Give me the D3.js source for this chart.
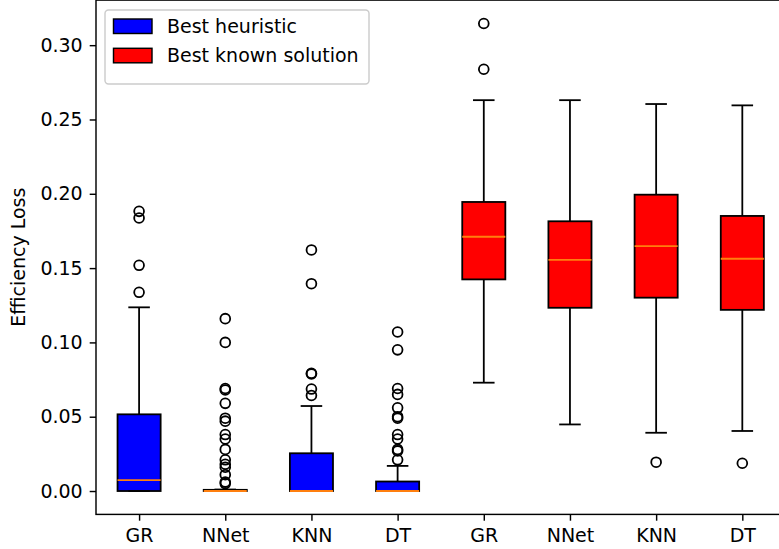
<!DOCTYPE html>
<html>
<head>
<meta charset="utf-8">
<script src="https://cdn.jsdelivr.net/npm/d3@7"></script>
<style>
  html, body { margin: 0; padding: 0; background: #fff; }
  svg { display: block; font-family: "DejaVu Sans", sans-serif; }
</style>
</head>
<body>
<svg id="chart" width="779" height="549"></svg>
<script>
// ---------- data ----------
const categories = ["GR", "NNet", "KNN", "DT"];
const seriesNames = ["Best heuristic", "Best known solution"];
const seriesColors = ["#0000ff", "#ff0000"];
const yTicks = [0.00, 0.05, 0.10, 0.15, 0.20, 0.25, 0.30];

// Best heuristic (blue)
const heuristicLow    = [0, 0, 0, 0];
const heuristicQ1     = [0, 0, 0, 0];
const heuristicMedian = [0.0074, 0, 0, 0];
const heuristicQ3     = [0.0516, 0.0008, 0.0254, 0.0064];
const heuristicHigh   = [0.1236, 0.0010, 0.0572, 0.0169];
const heuristicOutliers = [
  [0.1882, 0.1837, 0.1519, 0.1337],
  [0.116, 0.100, 0.069, 0.068, 0.059, 0.049, 0.047, 0.038, 0.035, 0.028, 0.021, 0.018, 0.016, 0.011, 0.006, 0.005],
  [0.1622, 0.1395, 0.0792, 0.0788, 0.0686, 0.0643],
  [0.107, 0.095, 0.069, 0.065, 0.056, 0.050, 0.049, 0.038, 0.035, 0.028, 0.027, 0.021]
];

// Best known solution (red)
const knownLow    = [0.0729, 0.0448, 0.0392, 0.0404];
const knownQ1     = [0.1424, 0.1233, 0.1301, 0.1219];
const knownMedian = [0.1711, 0.1556, 0.1648, 0.1563];
const knownQ3     = [0.1945, 0.1815, 0.1994, 0.1851];
const knownHigh   = [0.2630, 0.2630, 0.2604, 0.2595];
const knownOutliers = [
  [0.3146, 0.2838],
  [],
  [0.0194],
  [0.0187]
];

(function () {
// ---------- build box table ----------
const boxes = [];
categories.forEach((c, i) => boxes.push({
  pos: i + 1, label: c, series: 0,
  low: heuristicLow[i], q1: heuristicQ1[i], med: heuristicMedian[i],
  q3: heuristicQ3[i], high: heuristicHigh[i], out: heuristicOutliers[i]
}));
categories.forEach((c, i) => boxes.push({
  pos: i + 5, label: c, series: 1,
  low: knownLow[i], q1: knownQ1[i], med: knownMedian[i],
  q3: knownQ3[i], high: knownHigh[i], out: knownOutliers[i]
}));

// ---------- layout ----------
const svg = d3.select("#chart");
const pL = 96, pR = 785.4, pT = 0.1, pB = 514.4;
const fs = 19;
const x = d3.scaleLinear().domain([0.5, 8.5]).range([pL, pR]);
const y = d3.scaleLinear().domain([-0.01573, 0.33033]).range([pB, pT]);
const lw = 1.8;
const boxW = 0.5, capW = 0.25;

svg.append("defs").append("clipPath").attr("id", "clip")
  .append("rect").attr("x", pL).attr("y", pT).attr("width", pR - pL).attr("height", pB - pT);

const plot = svg.append("g").attr("clip-path", "url(#clip)");

const g = plot.selectAll("g.box").data(boxes).enter().append("g").attr("class", "box");

// box
g.append("rect")
  .attr("x", d => x(d.pos - boxW / 2))
  .attr("y", d => y(d.q3))
  .attr("width", d => x(d.pos + boxW / 2) - x(d.pos - boxW / 2))
  .attr("height", d => Math.max(0.01, y(d.q1) - y(d.q3)))
  .attr("fill", d => seriesColors[d.series])
  .attr("stroke", "#000")
  .attr("stroke-width", lw);

// whiskers
g.append("line")
  .attr("x1", d => x(d.pos)).attr("x2", d => x(d.pos))
  .attr("y1", d => y(d.q3)).attr("y2", d => y(d.high))
  .attr("stroke", "#000").attr("stroke-width", lw);
g.append("line")
  .attr("x1", d => x(d.pos)).attr("x2", d => x(d.pos))
  .attr("y1", d => y(d.q1)).attr("y2", d => y(d.low))
  .attr("stroke", "#000").attr("stroke-width", lw);

// caps
g.append("line")
  .attr("x1", d => x(d.pos - capW / 2)).attr("x2", d => x(d.pos + capW / 2))
  .attr("y1", d => y(d.high)).attr("y2", d => y(d.high))
  .attr("stroke", "#000").attr("stroke-width", lw);
g.append("line")
  .attr("x1", d => x(d.pos - capW / 2)).attr("x2", d => x(d.pos + capW / 2))
  .attr("y1", d => y(d.low)).attr("y2", d => y(d.low))
  .attr("stroke", "#000").attr("stroke-width", lw);

// medians
g.append("line")
  .attr("x1", d => x(d.pos - boxW / 2)).attr("x2", d => x(d.pos + boxW / 2))
  .attr("y1", d => y(d.med)).attr("y2", d => y(d.med))
  .attr("stroke", "#ff7f0e").attr("stroke-width", lw);

// fliers
g.each(function (d) {
  d3.select(this).selectAll("circle").data(d.out).enter().append("circle")
    .attr("cx", x(d.pos)).attr("cy", v => y(v)).attr("r", 4.9)
    .attr("fill", "none").attr("stroke", "#000").attr("stroke-width", lw);
});

// ---------- axes ----------
const yAxis = d3.axisLeft(y).tickValues(yTicks).tickFormat(d3.format(".2f"))
  .tickSize(6.3).tickPadding(7);
const ya = svg.append("g").attr("transform", `translate(${pL},0)`).call(yAxis);
ya.select(".domain").remove();
ya.selectAll("line").attr("stroke", "#000").attr("stroke-width", 1.44);
ya.selectAll("text").attr("font-size", fs).attr("font-family", "DejaVu Sans").attr("fill", "#000");

const xAxis = d3.axisBottom(x).tickValues(boxes.map(b => b.pos))
  .tickFormat((d, i) => boxes[i].label).tickSize(6.3).tickPadding(8);
const xa = svg.append("g").attr("transform", `translate(0,${pB})`).call(xAxis);
xa.select(".domain").remove();
xa.selectAll("line").attr("stroke", "#000").attr("stroke-width", 1.44);
xa.selectAll("text").attr("font-size", fs).attr("font-family", "DejaVu Sans").attr("fill", "#000");

// spines
svg.append("rect").attr("x", pL).attr("y", pT).attr("width", pR - pL).attr("height", pB - pT)
  .attr("fill", "none").attr("stroke", "#000").attr("stroke-width", 1.44);

// y label
svg.append("text")
  .attr("transform", `translate(25,${(pT + pB) / 2}) rotate(-90)`)
  .attr("text-anchor", "middle")
  .attr("font-size", fs).attr("fill", "#000")
  .text("Efficiency Loss");

// ---------- legend ----------
const leg = svg.append("g");
leg.append("rect").attr("x", 105).attr("y", 10).attr("width", 264).attr("height", 74)
  .attr("rx", 3.5).attr("fill", "#fff").attr("fill-opacity", 0.8)
  .attr("stroke", "#cccccc").attr("stroke-width", 1.44);
seriesNames.forEach((name, i) => {
  const yy = 19 + i * 29.3;
  leg.append("rect").attr("x", 113.5).attr("y", yy).attr("width", 38.5).attr("height", 14.5)
    .attr("fill", seriesColors[i]).attr("stroke", "#000").attr("stroke-width", 1.44);
  leg.append("text").attr("x", 167).attr("y", yy + 13.5)
    .attr("font-size", fs).attr("fill", "#000").text(name);
});
})();
</script>
</body>
</html>
